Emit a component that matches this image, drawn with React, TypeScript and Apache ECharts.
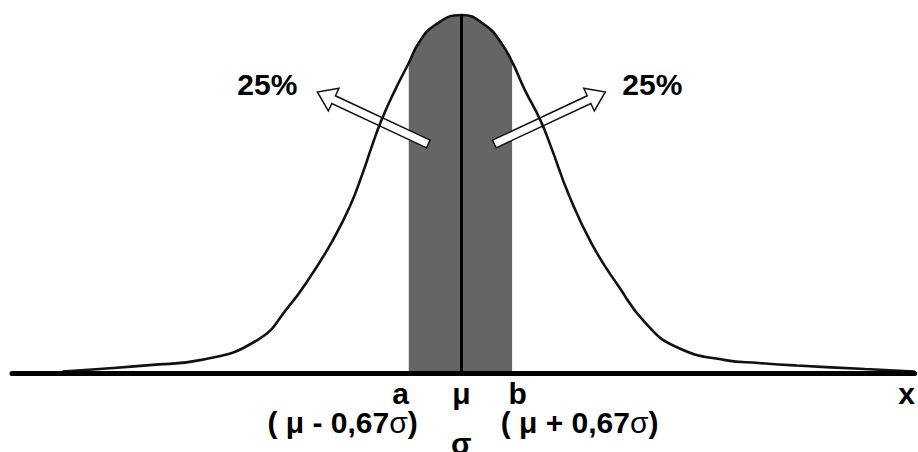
import React, { useEffect, useRef } from 'react';
import * as echarts from 'echarts';

// Curve: x in units of sigma, y relative to the peak height
const curveX = [-4.4, -3.99, -3.44, -2.88, -2.25, -1.91, -1.64, -1.42, -1.23, -1.09, -0.99, -0.88, -0.73, -0.58, -0.47, -0.29, 0, 0.26, 0.44, 0.56, 0.70, 0.87, 0.99, 1.19, 1.44, 1.74, 2.03, 2.36, 2.91, 3.28, 3.70, 4.45, 5.0];
const curveY = [0.004, 0.011, 0.022, 0.036, 0.092, 0.184, 0.279, 0.370, 0.465, 0.557, 0.631, 0.707, 0.791, 0.866, 0.922, 0.972, 1.0, 0.972, 0.922, 0.869, 0.791, 0.707, 0.631, 0.495, 0.360, 0.240, 0.140, 0.074, 0.036, 0.028, 0.021, 0.011, 0.004];

// Shaded band (a .. b) as drawn
const shadeFrom = -0.58;
const shadeTo = 0.56;

// Tick labels under the axis
const tickValues = [-0.67, 0, 0.62];
const tickLabels = ['a', 'μ', 'b'];
const subLabels = ['( μ - 0,67{s|σ})', '( μ + 0,67{s|σ})'];
const sigmaLabel = 'σ';
const pctLabels = ['25%', '25%'];
const axisName = 'x';

const FONT = 'Liberation Sans, Arial, sans-serif';

function arrowPoints(tx: number, ty: number, hx: number, hy: number, shaft: number, headW: number, headL: number) {
  const dx = hx - tx, dy = hy - ty;
  const L = Math.hypot(dx, dy);
  const ux = dx / L, uy = dy / L;
  const nx = -uy, ny = ux;
  const bx = hx - ux * headL, by = hy - uy * headL;
  const s = shaft / 2, h = headW / 2;
  return [
    [tx + nx * s, ty + ny * s],
    [bx + nx * s, by + ny * s],
    [bx + nx * h, by + ny * h],
    [hx, hy],
    [bx - nx * h, by - ny * h],
    [bx - nx * s, by - ny * s],
    [tx - nx * s, ty - ny * s],
  ];
}

export default function App() {
  const ref = useRef<HTMLDivElement>(null);

  useEffect(() => {
    if (!ref.current) return;
    const chart = echarts.init(ref.current, undefined, { renderer: 'svg' });

    const curve = curveX.map((x, i) => [x, curveY[i]]);
    const shade = curve.filter(([x]) => x >= shadeFrom - 1e-9 && x <= shadeTo + 1e-9);

    chart.setOption({
      animation: false,
      backgroundColor: '#fff',
      grid: { left: 12, right: 0, top: 15, bottom: 79 },
      xAxis: {
        type: 'value',
        min: -4.956,
        max: 5.0,
        z: 4,
        axisLine: { show: true, lineStyle: { color: '#000', width: 5 } },
        axisTick: { show: false },
        splitLine: { show: false },
        axisLabel: {
          customValues: tickValues,
          formatter: (v: number) => {
            const i = tickValues.findIndex((t) => Math.abs(t - v) < 1e-6);
            return i >= 0 ? tickLabels[i] : '';
          },
          fontSize: 30,
          fontWeight: 'bold',
          fontFamily: FONT,
          color: '#000',
          margin: 5,
          lineHeight: 30,
        },
        name: axisName,
        nameLocation: 'end',
        nameGap: -8,
        nameTextStyle: {
          fontSize: 30,
          fontWeight: 'bold',
          fontFamily: FONT,
          color: '#000',
          align: 'center',
          verticalAlign: 'top',
          lineHeight: 30,
          padding: [5, 0, 0, 0],
        },
      },
      yAxis: { type: 'value', min: 0, max: 1, show: false },
      series: [
        {
          type: 'line',
          data: shade,
          smooth: 0.5,
          symbol: 'none',
          z: 1,
          clip: false,
          lineStyle: { width: 0 },
          areaStyle: { color: '#656565', opacity: 1 },
          silent: true,
        },
        {
          type: 'line',
          data: curve,
          smooth: 0.5,
          symbol: 'none',
          z: 3,
          clip: false,
          lineStyle: { color: '#111', width: 2.6 },
          silent: true,
          markLine: {
            silent: true,
            symbol: ['none', 'none'],
            label: { show: false },
            lineStyle: { color: '#000', width: 3, type: 'solid' },
            data: [{ xAxis: 0 }],
          },
        },
      ],
    });

    const px = (v: number) => chart.convertToPixel({ xAxisIndex: 0 }, v) as number;
    const mu = px(0);
    const aPx = px(tickValues[0]);
    const bPx = px(tickValues[2]);

    const textEl = (text: string, x: number, y: number, align: string) => ({
      type: 'text',
      x,
      y,
      z: 10,
      style: {
        text,
        fill: '#000',
        fontSize: 30,
        fontWeight: 'bold',
        fontFamily: FONT,
        textAlign: align,
        textVerticalAlign: 'middle',
        rich: {
          s: { fontSize: 30, fontWeight: 'normal', fontFamily: FONT, fill: '#000' },
        },
      },
    });

    const leftArrow = arrowPoints(mu - 33, 144, mu - 144, 92, 8.5, 25, 18);
    const rightArrow = arrowPoints(mu + 33, 144, mu + 144, 92, 8.5, 25, 18);

    chart.setOption({
      graphic: [
        {
          type: 'polygon',
          z: 2,
          shape: { points: leftArrow },
          style: { fill: '#fff', stroke: '#111', lineWidth: 1.5 },
        },
        {
          type: 'polygon',
          z: 2,
          shape: { points: rightArrow },
          style: { fill: '#fff', stroke: '#111', lineWidth: 1.5 },
        },
        textEl(pctLabels[0], mu - 194, 84.6, 'center'),
        textEl(pctLabels[1], mu + 191, 84.6, 'center'),
        textEl(subLabels[0], aPx - 58, 422.6, 'center'),
        textEl(subLabels[1], bPx + 62, 422.6, 'center'),
        textEl(sigmaLabel, mu, 443.6, 'center'),
      ],
    });

    return () => chart.dispose();
  }, []);

  return (
    <div
      ref={ref}
      style={{ position: 'absolute', left: 0, top: 0, width: 918, height: 452, background: '#fff' }}
    />
  );
}
